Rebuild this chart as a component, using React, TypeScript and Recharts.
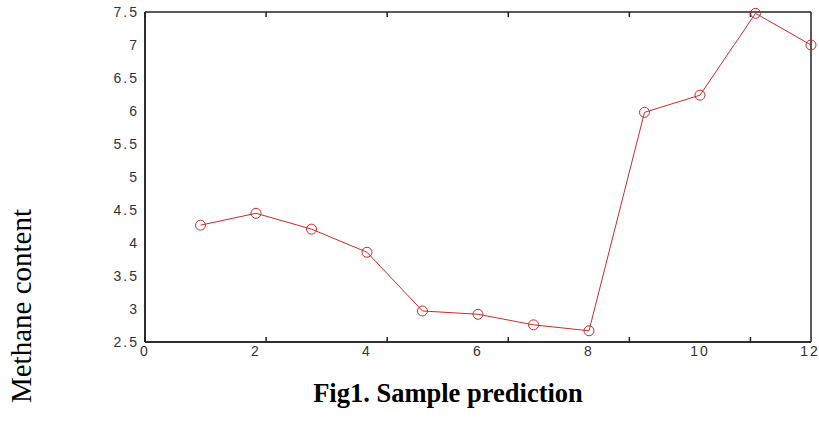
import { LineChart, Line, XAxis, YAxis } from 'recharts';

const sampleIndex = [1, 2, 3, 4, 5, 6, 7, 8, 9, 10, 11, 12];
const methane = [4.27, 4.45, 4.21, 3.86, 2.97, 2.92, 2.76, 2.67, 5.98, 6.24, 7.48, 7.0];
const xTicks = [0, 2, 4, 6, 8, 10, 12];
const yTicks = [2.5, 3, 3.5, 4, 4.5, 5, 5.5, 6, 6.5, 7, 7.5];

const data = sampleIndex.map((x, i) => ({ x, y: methane[i] }));

const xDomain = [0, 12];
const yDomain = [2.5, 7.5];

const tickStyle = {
  fontSize: 14,
  fill: '#333',
  fontFamily: 'Liberation Sans, Arial, sans-serif',
  letterSpacing: 2,
};
const axisColor = '#222';
const blank = () => '';

export default function App() {
  return (
    <div style={{ position: 'absolute', left: 0, top: 0, width: 819, height: 430, background: '#fff' }}>
      <LineChart width={819} height={430} data={data} margin={{ top: 12, right: 8, bottom: 0, left: 85 }}>
        {/* labelled axes */}
        <XAxis
          xAxisId="bottom"
          dataKey="x"
          type="number"
          domain={xDomain}
          ticks={xTicks}
          height={88}
          tickSize={0}
          tickMargin={4}
          tickLine={false}
          stroke={axisColor}
          strokeWidth={1.5}
          tick={tickStyle}
        />
        <YAxis
          yAxisId="left"
          type="number"
          domain={yDomain}
          ticks={yTicks}
          width={60}
          tickSize={0}
          tickMargin={6}
          tickLine={false}
          stroke={axisColor}
          strokeWidth={1.5}
          tick={tickStyle}
        />
        {/* inward tick marks + box frame */}
        <XAxis
          xAxisId="bottomIn"
          type="number"
          domain={xDomain}
          ticks={xTicks}
          mirror
          height={1}
          tickSize={5}
          tickFormatter={blank}
          stroke={axisColor}
          strokeWidth={1.5}
        />
        <YAxis
          yAxisId="leftIn"
          type="number"
          domain={yDomain}
          ticks={yTicks}
          mirror
          width={1}
          tickSize={5}
          tickFormatter={blank}
          stroke={axisColor}
          strokeWidth={1.5}
        />
        <XAxis
          xAxisId="top"
          orientation="top"
          type="number"
          domain={xDomain}
          ticks={xTicks}
          mirror
          height={1}
          tickSize={5}
          tickFormatter={blank}
          stroke={axisColor}
          strokeWidth={1.5}
        />
        <YAxis
          yAxisId="right"
          orientation="right"
          type="number"
          domain={yDomain}
          ticks={yTicks}
          mirror
          width={1}
          tickSize={5}
          tickFormatter={blank}
          stroke={axisColor}
          strokeWidth={1.5}
        />
        <Line
          xAxisId="bottom"
          yAxisId="left"
          dataKey="y"
          stroke="#cc2a2a"
          strokeWidth={1}
          dot={{ r: 5, stroke: '#cc2a2a', strokeWidth: 1, fill: 'none' }}
          isAnimationActive={false}
        />
      </LineChart>
      <div
        style={{
          position: 'absolute',
          left: 0,
          width: 896,
          top: 378,
          textAlign: 'center',
          fontFamily: 'Liberation Serif, Times New Roman, serif',
          fontWeight: 'bold',
          fontSize: 26.5,
        }}
      >
        Fig1. Sample prediction
      </div>
      <div
        style={{
          position: 'absolute',
          left: 21,
          top: 306,
          transform: 'translate(-50%, -50%) rotate(-90deg)',
          whiteSpace: 'nowrap',
          fontFamily: 'Liberation Serif, Times New Roman, serif',
          fontSize: 29,
        }}
      >
        Methane content
      </div>
    </div>
  );
}
